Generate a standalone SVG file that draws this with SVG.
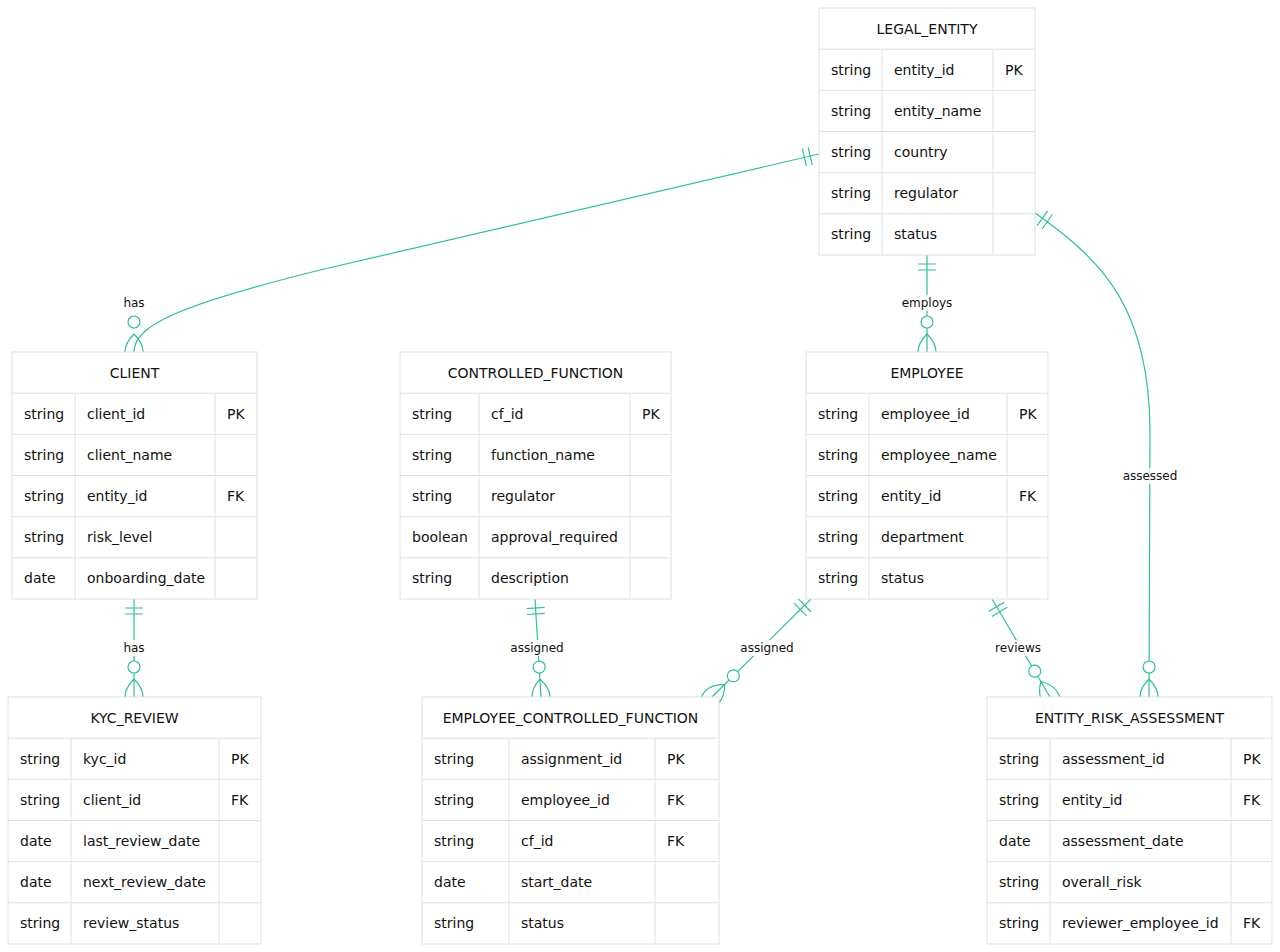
<svg xmlns="http://www.w3.org/2000/svg" width="1280" height="952" viewBox="0 0 1280 952">
<style>
  text { font-family: "DejaVu Sans", "Liberation Sans", sans-serif; fill: #111; }
  .t { font-size: 14px; dominant-baseline: central; }
  .h { font-size: 14px; dominant-baseline: central; text-anchor: middle; }
  .lbl { font-size: 12px; dominant-baseline: central; text-anchor: middle; }
  .box { fill: #ffffff; stroke: #e0e0e0; stroke-width: 1; }
  .grid { stroke: #e0e0e0; stroke-width: 1; fill: none; }
  .rel { fill: none; stroke: #2ec28e; stroke-width: 1.2; marker-start: url(#oneStart); marker-end: url(#manyEnd); }
  .lblbg { fill: #ffffff; opacity: 0.85; }
</style>
<defs>
  <marker id="oneStart" refX="0" refY="9" markerWidth="18" markerHeight="18" orient="auto" markerUnits="userSpaceOnUse" overflow="visible">
    <path d="M9,0 L9,18 M15,0 L15,18" fill="none" stroke="#2ec28e" stroke-width="1.2"/>
  </marker>
  <marker id="manyEnd" refX="39" refY="18" markerWidth="57" markerHeight="36" orient="auto" markerUnits="userSpaceOnUse" overflow="visible">
    <circle cx="9" cy="18" r="6" fill="#ffffff" stroke="#2ec28e" stroke-width="1.2"/>
    <path d="M21,18 Q39,0 57,18 Q39,36 21,18" fill="none" stroke="#2ec28e" stroke-width="1.2"/>
  </marker>
</defs>
<rect width="1280" height="952" fill="#ffffff"/>

<g id="connectors">
  <path class="rel" d="M819,154 L320,270 C180,305 134,325 134,352"/>
  <path class="rel" d="M927,255 L927,352"/>
  <path class="rel" d="M1035,213 C1105,262 1149,310 1150,430 L1149,697"/>
  <path class="rel" d="M134,599 L134,697"/>
  <path class="rel" d="M535,599 L541,697"/>
  <path class="rel" d="M811,599 L712,697"/>
  <path class="rel" d="M992,599 L1050,697"/>
  <rect class="lblbg" x="121" y="295" width="26" height="16"/>
  <text class="lbl" x="134" y="303">has</text>
  <rect class="lblbg" x="901" y="295" width="52" height="16"/>
  <text class="lbl" x="927" y="303">employs</text>
  <rect class="lblbg" x="1122" y="468" width="56" height="16"/>
  <text class="lbl" x="1150" y="476">assessed</text>
  <rect class="lblbg" x="121" y="640" width="26" height="16"/>
  <text class="lbl" x="134" y="648">has</text>
  <rect class="lblbg" x="509" y="640" width="56" height="16"/>
  <text class="lbl" x="537" y="648">assigned</text>
  <rect class="lblbg" x="739" y="640" width="56" height="16"/>
  <text class="lbl" x="767" y="648">assigned</text>
  <rect class="lblbg" x="993" y="640" width="50" height="16"/>
  <text class="lbl" x="1018" y="648">reviews</text>
</g>

<g id="LEGAL_ENTITY" transform="translate(819,8)">
  <rect class="box" x="0" y="0" width="216" height="247"/>
  <path class="grid" d="M0,41.17H216M0,82.33H216M0,123.5H216M0,164.67H216M0,205.83H216M63,41.17V247M174,41.17V247"/>
  <text class="h" x="108" y="20.6">LEGAL_ENTITY</text>
  <text class="t" x="12" y="61.75">string</text><text class="t" x="75" y="61.75">entity_id</text><text class="t" x="186" y="61.75">PK</text>
  <text class="t" x="12" y="102.9">string</text><text class="t" x="75" y="102.9">entity_name</text>
  <text class="t" x="12" y="144.1">string</text><text class="t" x="75" y="144.1">country</text>
  <text class="t" x="12" y="185.25">string</text><text class="t" x="75" y="185.25">regulator</text>
  <text class="t" x="12" y="226.4">string</text><text class="t" x="75" y="226.4">status</text>
</g>

<g id="CLIENT" transform="translate(12,352)">
  <rect class="box" x="0" y="0" width="245" height="247"/>
  <path class="grid" d="M0,41.17H245M0,82.33H245M0,123.5H245M0,164.67H245M0,205.83H245M63,41.17V247M203,41.17V247"/>
  <text class="h" x="122.5" y="20.6">CLIENT</text>
  <text class="t" x="12" y="61.75">string</text><text class="t" x="75" y="61.75">client_id</text><text class="t" x="215" y="61.75">PK</text>
  <text class="t" x="12" y="102.9">string</text><text class="t" x="75" y="102.9">client_name</text>
  <text class="t" x="12" y="144.1">string</text><text class="t" x="75" y="144.1">entity_id</text><text class="t" x="215" y="144.1">FK</text>
  <text class="t" x="12" y="185.25">string</text><text class="t" x="75" y="185.25">risk_level</text>
  <text class="t" x="12" y="226.4">date</text><text class="t" x="75" y="226.4">onboarding_date</text>
</g>

<g id="CONTROLLED_FUNCTION" transform="translate(400,352)">
  <rect class="box" x="0" y="0" width="271" height="247"/>
  <path class="grid" d="M0,41.17H271M0,82.33H271M0,123.5H271M0,164.67H271M0,205.83H271M79,41.17V247M230,41.17V247"/>
  <text class="h" x="135.5" y="20.6">CONTROLLED_FUNCTION</text>
  <text class="t" x="12" y="61.75">string</text><text class="t" x="91" y="61.75">cf_id</text><text class="t" x="242" y="61.75">PK</text>
  <text class="t" x="12" y="102.9">string</text><text class="t" x="91" y="102.9">function_name</text>
  <text class="t" x="12" y="144.1">string</text><text class="t" x="91" y="144.1">regulator</text>
  <text class="t" x="12" y="185.25">boolean</text><text class="t" x="91" y="185.25">approval_required</text>
  <text class="t" x="12" y="226.4">string</text><text class="t" x="91" y="226.4">description</text>
</g>

<g id="EMPLOYEE" transform="translate(806,352)">
  <rect class="box" x="0" y="0" width="242" height="247"/>
  <path class="grid" d="M0,41.17H242M0,82.33H242M0,123.5H242M0,164.67H242M0,205.83H242M63,41.17V247M201,41.17V247"/>
  <text class="h" x="121" y="20.6">EMPLOYEE</text>
  <text class="t" x="12" y="61.75">string</text><text class="t" x="75" y="61.75">employee_id</text><text class="t" x="213" y="61.75">PK</text>
  <text class="t" x="12" y="102.9">string</text><text class="t" x="75" y="102.9">employee_name</text>
  <text class="t" x="12" y="144.1">string</text><text class="t" x="75" y="144.1">entity_id</text><text class="t" x="213" y="144.1">FK</text>
  <text class="t" x="12" y="185.25">string</text><text class="t" x="75" y="185.25">department</text>
  <text class="t" x="12" y="226.4">string</text><text class="t" x="75" y="226.4">status</text>
</g>

<g id="KYC_REVIEW" transform="translate(8,697)">
  <rect class="box" x="0" y="0" width="253" height="247"/>
  <path class="grid" d="M0,41.17H253M0,82.33H253M0,123.5H253M0,164.67H253M0,205.83H253M63,41.17V247M211,41.17V247"/>
  <text class="h" x="126.5" y="20.6">KYC_REVIEW</text>
  <text class="t" x="12" y="61.75">string</text><text class="t" x="75" y="61.75">kyc_id</text><text class="t" x="223" y="61.75">PK</text>
  <text class="t" x="12" y="102.9">string</text><text class="t" x="75" y="102.9">client_id</text><text class="t" x="223" y="102.9">FK</text>
  <text class="t" x="12" y="144.1">date</text><text class="t" x="75" y="144.1">last_review_date</text>
  <text class="t" x="12" y="185.25">date</text><text class="t" x="75" y="185.25">next_review_date</text>
  <text class="t" x="12" y="226.4">string</text><text class="t" x="75" y="226.4">review_status</text>
</g>

<g id="EMPLOYEE_CONTROLLED_FUNCTION" transform="translate(422,697)">
  <rect class="box" x="0" y="0" width="297" height="247"/>
  <path class="grid" d="M0,41.17H297M0,82.33H297M0,123.5H297M0,164.67H297M0,205.83H297M87,41.17V247M233,41.17V247"/>
  <text class="h" x="148.5" y="20.6">EMPLOYEE_CONTROLLED_FUNCTION</text>
  <text class="t" x="12" y="61.75">string</text><text class="t" x="99" y="61.75">assignment_id</text><text class="t" x="245" y="61.75">PK</text>
  <text class="t" x="12" y="102.9">string</text><text class="t" x="99" y="102.9">employee_id</text><text class="t" x="245" y="102.9">FK</text>
  <text class="t" x="12" y="144.1">string</text><text class="t" x="99" y="144.1">cf_id</text><text class="t" x="245" y="144.1">FK</text>
  <text class="t" x="12" y="185.25">date</text><text class="t" x="99" y="185.25">start_date</text>
  <text class="t" x="12" y="226.4">string</text><text class="t" x="99" y="226.4">status</text>
</g>

<g id="ENTITY_RISK_ASSESSMENT" transform="translate(987,697)">
  <rect class="box" x="0" y="0" width="285" height="247"/>
  <path class="grid" d="M0,41.17H285M0,82.33H285M0,123.5H285M0,164.67H285M0,205.83H285M63,41.17V247M244,41.17V247"/>
  <text class="h" x="142.5" y="20.6">ENTITY_RISK_ASSESSMENT</text>
  <text class="t" x="12" y="61.75">string</text><text class="t" x="75" y="61.75">assessment_id</text><text class="t" x="256" y="61.75">PK</text>
  <text class="t" x="12" y="102.9">string</text><text class="t" x="75" y="102.9">entity_id</text><text class="t" x="256" y="102.9">FK</text>
  <text class="t" x="12" y="144.1">date</text><text class="t" x="75" y="144.1">assessment_date</text>
  <text class="t" x="12" y="185.25">string</text><text class="t" x="75" y="185.25">overall_risk</text>
  <text class="t" x="12" y="226.4">string</text><text class="t" x="75" y="226.4">reviewer_employee_id</text><text class="t" x="256" y="226.4">FK</text>
</g>
</svg>
